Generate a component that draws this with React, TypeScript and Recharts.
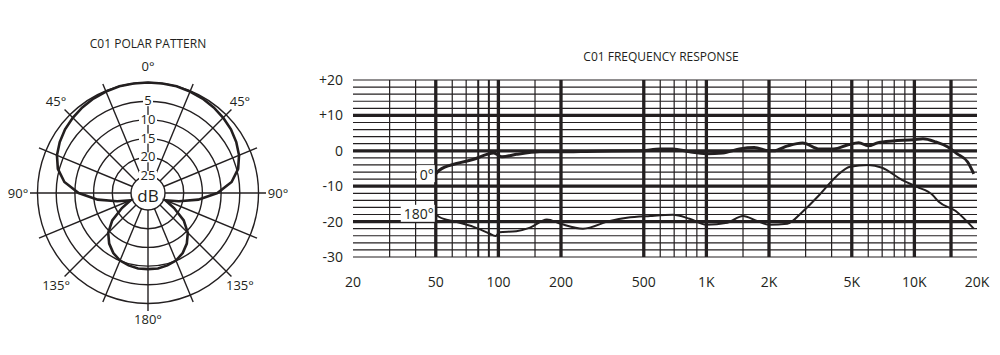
import {
  RadarChart,
  Radar,
  PolarGrid,
  PolarAngleAxis,
  PolarRadiusAxis,
  LineChart,
  Line,
  XAxis,
  YAxis,
  CartesianGrid,
} from "recharts";

const INK = "#231f20";
const FONT = "'Open Sans', 'Noto Sans', 'DejaVu Sans', sans-serif";

// ── polar pattern: level (dB re on-axis) every 7.5°, clockwise from front ────
const polarAngles = [
  0, 7.5, 15, 22.5, 30, 37.5, 45, 52.5, 60, 67.5, 75, 82.5,
  90, 97.5, 105, 112.5, 120, 127.5, 135, 142.5, 150, 157.5, 165, 172.5,
  180, 187.5, 195, 202.5, 210, 217.5, 225, 232.5, 240, 247.5, 255, 262.5,
  270, 277.5, 285, 292.5, 300, 307.5, 315, 322.5, 330, 337.5, 345, 352.5,
];
const polarGain = [
  0, 0, 0, -0.2, -0.4, -0.7, -1.1, -1.6, -2.3, -3.2, -4.6, -7,
  -11, -16, -21, -24.5, -21.5, -17.5, -14.5, -12.5, -11, -10, -9.5, -9.2,
  -9.2, -9.2, -9.5, -10, -11, -12.5, -14.5, -17.5, -21.5, -24.5, -21, -16,
  -11, -7, -4.6, -3.2, -2.3, -1.6, -1.1, -0.7, -0.4, -0.2, 0, 0,
];
const ringDb = [-25, -20, -15, -10, -5, 0];
const degreeAngles = [0, 45, 90, 135, 180, 225, 270, 315];
const degreeLabels = ["0°", "45°", "90°", "135°", "180°", "135°", "90°", "45°"];
// grid spokes (mic angle), the front one is drawn by the ring labels
const spokeAngles = [
  22.5, 45, 67.5, 90, 112.5, 135, 157.5, 180,
  202.5, 225, 247.5, 270, 292.5, 315, 337.5,
];

// ── frequency response ───────────────────────────────────────────────────────
const onAxisFreq = [
  50, 52, 63, 76, 88, 95, 104, 122, 158, 190, 300, 480, 600, 690, 830, 1000,
  1200, 1440, 1700, 2000, 2100, 2460, 2900, 3500, 4100, 4800, 5400, 6000,
  6700, 7900, 9900, 11000, 12700, 14500, 16000, 18000, 19300,
];
const onAxisDb = [
  -6.6, -5.5, -3.6, -2.4, -1.0, -0.6, -1.7, -1.0, -0.3, -0.3, -0.1, 0, 0.5, 0.5, -0.3, -0.8,
  -0.6, 0.5, 0.9, 0, 0, 1.4, 2.2, 0.5, 0.5, 1.7, 2.3, 1.4,
  2.3, 2.8, 3.1, 3.4, 2.5, 1.1, -0.8, -3.1, -6.5,
];
const rearFreq = [
  50, 52, 62, 76, 90, 97, 101, 122, 142, 171, 199, 255, 344, 415, 537, 690,
  830, 1000, 1260, 1500, 1750, 2000, 2450, 2900, 3500, 4200, 4900, 6000,
  7000, 8700, 10300, 12200, 13100, 15800, 19300,
];
const rearDb = [
  -17.8, -18.7, -20, -21.5, -23.3, -24.1, -23, -22.7, -21.7, -19.4, -20.6, -22, -19.8, -18.9, -18.4, -18.1,
  -19.2, -20.9, -20.3, -18.4, -19.8, -20.9, -20.6, -17.2, -12.4, -7.3, -4.5, -4.0,
  -4.8, -8.2, -10.2, -12.4, -14.4, -17, -22,
];
const freqTicks = [20, 50, 100, 200, 500, 1000, 2000, 5000, 10000, 20000];
const dbTicks = [20, 10, 0, -10, -20, -30];
const minorFreqGrid = [
  30, 40, 60, 70, 150, 600, 700, 800, 900, 1500, 3000, 4000, 6000, 7000, 8000, 9000,
];
const midFreqGrid = [80, 90];
const majorFreqGrid = [50, 100, 200, 500, 1000, 2000, 5000, 10000, 15000];
const minorDbGrid = [
  20, 18, 16, 14, 12, 8, 6, 4, 2, -2, -4, -6, -8,
  -12, -14, -16, -18, -22, -24, -26, -28, -30,
];
const majorDbGrid = [10, 0, -10, -20];

const polarData = polarAngles.map((angle, i) => ({ angle, gain: polarGain[i] }));
const onAxisData = onAxisFreq.map((freq, i) => ({ freq, db: onAxisDb[i] }));
const rearData = rearFreq.map((freq, i) => ({ freq, db: rearDb[i] }));

function AngleTick(props: any) {
  const { x, y, payload } = props;
  const k = degreeAngles.indexOf(payload.value);
  if (k < 0) return <g />;
  // front/back labels sit a little closer to the circle than the side ones
  const dy = payload.value === 0 ? 3 : payload.value === 180 ? -4 : 0;
  return (
    <text x={x} y={y + dy} textAnchor="middle" dominantBaseline="central"
      fontSize={13} fontFamily={FONT} fill={INK}>
      {degreeLabels[k]}
    </text>
  );
}

function RingTick(props: any) {
  const { x, y, payload } = props;
  const v = payload.value;
  if (v === 0) return <g />;
  const label = String(Math.abs(v));
  const w = label.length * 8 + 2;
  return (
    <g>
      {v < -5 && <line x1={x} y1={y} x2={x} y2={y - 18.7} stroke={INK} strokeWidth={1.3} />}
      <rect x={x - w / 2} y={y - 5} width={w} height={10} fill="#fff" />
      <text x={x} y={y - 1} textAnchor="middle" dominantBaseline="central"
        fontSize={13} fontFamily={FONT} fill={INK}>
        {label}
      </text>
      {v === -25 && (
        <text x={x} y={y + 19} textAnchor="middle" dominantBaseline="central"
          fontSize={17} fontFamily={FONT} fill={INK}>
          dB
        </text>
      )}
    </g>
  );
}

function curveTag(text: string, boxW: number) {
  return (p: any) => {
    if (p.index !== 0) return <g key={`d-${text}-${p.index}`} />;
    return (
      <g key={`tag-${text}`}>
        <rect x={p.cx - boxW - 1} y={p.cy - 9} width={boxW} height={17} fill="#fff" />
        <text x={p.cx - 2} y={p.cy} textAnchor="end" dominantBaseline="central"
          fontSize={14} fontFamily={FONT} fill={INK}>
          {text}
        </text>
      </g>
    );
  };
}

const fmtFreq = (v: number) => (v >= 1000 ? `${v / 1000}K` : `${v}`);
const fmtDb = (v: number) => (v > 0 ? `+${v}` : `${v}`);
const tickStyle = { fontSize: 14, fontFamily: FONT, fill: INK };

export default function App() {
  return (
    <div style={{ position: "absolute", left: 0, top: 0, width: 1000, height: 355, background: "#fff" }}>
      <div style={{ position: "absolute", left: 0, top: 35, width: 296, textAlign: "center",
        fontFamily: FONT, fontSize: 12, color: INK }}>
        C01 POLAR PATTERN
      </div>
      <div style={{ position: "absolute", left: 300, top: 48, width: 722, textAlign: "center",
        fontFamily: FONT, fontSize: 12, color: INK }}>
        C01 FREQUENCY RESPONSE
      </div>

      <div style={{ position: "absolute", left: 0, top: 0 }}>
        <RadarChart width={300} height={355} data={polarData} cx={148} cy={193}
          innerRadius={17} outerRadius={118} margin={{ top: 0, right: 0, bottom: 0, left: 0 }}>
          <PolarGrid gridType="circle" stroke={INK} strokeWidth={1.4}
            polarAngles={spokeAngles.map((a) => 90 - a)} />
          <PolarAngleAxis dataKey="angle" axisLine={false} tickLine={false} tickSize={12} tick={AngleTick} />
          <Radar dataKey="gain" stroke={INK} strokeWidth={2.6} fill="none" fillOpacity={0}
            dot={false} isAnimationActive={false} />
          <PolarRadiusAxis angle={90} type="number" domain={[-25, 2]} ticks={ringDb}
            allowDataOverflow axisLine={false} tickLine={false} tick={RingTick} />
        </RadarChart>
      </div>

      <div style={{ position: "absolute", left: 300, top: 30 }}>
        <LineChart width={700} height={300} margin={{ top: 50, right: 23, bottom: 33, left: 8 }}>
          <XAxis xAxisId="vMinor" dataKey="freq" type="number" scale="log" domain={[20, 20000]}
            ticks={minorFreqGrid} interval={0} allowDataOverflow hide />
          <XAxis xAxisId="vMid" dataKey="freq" type="number" scale="log" domain={[20, 20000]}
            ticks={midFreqGrid} interval={0} allowDataOverflow hide />
          <XAxis xAxisId="vMajor" dataKey="freq" type="number" scale="log" domain={[20, 20000]}
            ticks={majorFreqGrid} interval={0} allowDataOverflow hide />
          <YAxis yAxisId="hMinor" type="number" domain={[-30, 20]} ticks={minorDbGrid}
            interval={0} allowDataOverflow hide />
          <YAxis yAxisId="hMajor" type="number" domain={[-30, 20]} ticks={majorDbGrid}
            interval={0} allowDataOverflow hide />
          <CartesianGrid xAxisId="vMinor" yAxisId="hMinor" syncWithTicks stroke={INK} strokeWidth={1.2} />
          <CartesianGrid xAxisId="vMid" yAxisId="hMinor" syncWithTicks horizontal={false} stroke={INK} strokeWidth={2} />
          <CartesianGrid xAxisId="vMajor" yAxisId="hMajor" syncWithTicks stroke={INK} strokeWidth={3.3} />
          <XAxis dataKey="freq" type="number" scale="log" domain={[20, 20000]} ticks={freqTicks}
            tickFormatter={fmtFreq} allowDataOverflow interval={0} axisLine={false} tickLine={false}
            tickMargin={14} height={40} tick={tickStyle} />
          <YAxis type="number" domain={[-30, 20]} ticks={dbTicks} tickFormatter={fmtDb}
            allowDataOverflow interval={0} axisLine={false} tickLine={false} width={45}
            tickMargin={4} tick={tickStyle} />
          <Line data={rearData} dataKey="db" type="monotone" stroke={INK} strokeWidth={2}
            dot={curveTag("180°", 34)} activeDot={false} isAnimationActive={false} />
          <Line data={onAxisData} dataKey="db" type="monotone" stroke={INK} strokeWidth={3}
            dot={curveTag("0°", 18)} activeDot={false} isAnimationActive={false} />
        </LineChart>
      </div>
    </div>
  );
}
